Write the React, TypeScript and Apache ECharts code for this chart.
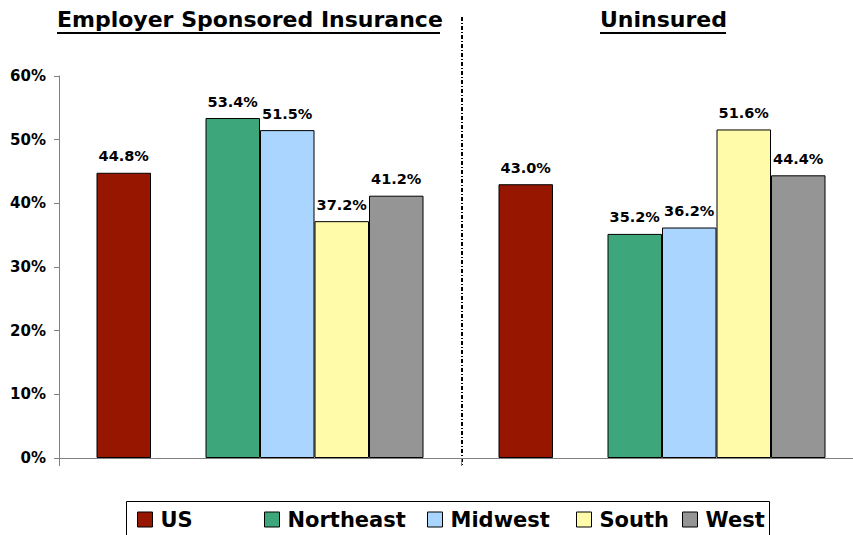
import React, { useEffect, useRef } from "react";
import * as echarts from "echarts";

const categories = ["Employer Sponsored Insurance", "Uninsured"];
const usValues = [44.8, 43.0];
const northeastValues = [53.4, 35.2];
const midwestValues = [51.5, 36.2];
const southValues = [37.2, 51.6];
const westValues = [41.2, 44.4];
const yTicks = { min: 0, max: 60, interval: 10 };

const seriesDefs = [
  { name: "US", data: usValues, color: "#961600" },
  { name: "gap", data: ["-", "-"], color: "transparent" },
  { name: "Northeast", data: northeastValues, color: "#3DA77B" },
  { name: "Midwest", data: midwestValues, color: "#A9D5FF" },
  { name: "South", data: southValues, color: "#FFFBA9" },
  { name: "West", data: westValues, color: "#959595" },
];

const legendLefts: Record<string, number> = {
  US: 137,
  Northeast: 264,
  Midwest: 427,
  South: 576,
  West: 682,
};

const FONT = "DejaVu Sans";

export default function App() {
  const ref = useRef<HTMLDivElement>(null);
  useEffect(() => {
    document.body.style.margin = "0";
    if (!ref.current) return;
    const chart = echarts.init(ref.current, null, { renderer: "svg" });
    const series = seriesDefs.map((s) => ({
      name: s.name,
      type: "bar",
      data: s.data,
      barWidth: 54.5,
      barGap: "0%",
      itemStyle: {
        color: s.color,
        borderColor: s.name === "gap" ? "transparent" : "#000",
        borderWidth: 1,
      },
      label: {
        show: s.name !== "gap",
        position: "top",
        distance: 9,
        formatter: (p: any) => Number(p.value).toFixed(1) + "%",
        fontFamily: FONT,
        fontWeight: "bold",
        fontSize: 14.5,
        color: "#000",
      },
    }));
    const legends = seriesDefs
      .filter((s) => s.name !== "gap")
      .map((s) => ({
        data: [s.name],
        left: legendLefts[s.name],
        top: 509,
        padding: 0,
        itemWidth: 15,
        itemHeight: 15,
        itemGap: 0,
        icon: "rect",
        itemStyle: { borderColor: "#000", borderWidth: 1 },
        textStyle: {
          fontFamily: FONT,
          fontWeight: "bold",
          fontSize: 21,
          color: "#000",
          padding: [0, 0, 0, 3],
        },
        selectedMode: false,
      }));
    chart.setOption({
      animation: false,
      backgroundColor: "#fff",
      grid: {
        left: 59,
        width: 804,
        top: 76,
        bottom: 77,
        containLabel: false,
        outerBoundsMode: "none",
      },
      xAxis: {
        type: "category",
        data: categories,
        axisLine: { lineStyle: { color: "#808080", width: 1 } },
        axisTick: { show: true, length: 8, lineStyle: { color: "#808080" } },
        axisLabel: { show: false },
      },
      yAxis: {
        type: "value",
        min: yTicks.min,
        max: yTicks.max,
        interval: yTicks.interval,
        axisLine: { show: true, lineStyle: { color: "#808080", width: 1 } },
        axisTick: { show: true, length: 5, lineStyle: { color: "#808080" } },
        splitLine: { show: false },
        axisLabel: {
          formatter: "{value}%",
          margin: 13,
          fontFamily: FONT,
          fontWeight: "bold",
          fontSize: 15,
          color: "#000",
        },
      },
      legend: legends,
      series,
      graphic: [
        {
          type: "text",
          left: 57,
          top: 8,
          style: {
            text: "Employer Sponsored Insurance",
            font: `bold 22px "${FONT}"`,
            fill: "#000",
          },
        },
        {
          type: "line",
          shape: { x1: 57, y1: 33, x2: 440, y2: 33 },
          style: { stroke: "#000", lineWidth: 2 },
        },
        {
          type: "text",
          left: 600,
          top: 8,
          style: {
            text: "Uninsured",
            font: `bold 22px "${FONT}"`,
            fill: "#000",
          },
        },
        {
          type: "line",
          shape: { x1: 600, y1: 33, x2: 726, y2: 33 },
          style: { stroke: "#000", lineWidth: 2 },
        },
        {
          type: "line",
          shape: { x1: 462, y1: 17, x2: 462, y2: 466 },
          style: { stroke: "#000", lineWidth: 2, lineDash: [4, 2, 1, 2] },
        },
        {
          type: "rect",
          shape: { x: 126.5, y: 501.5, width: 643, height: 40 },
          style: { fill: "none", stroke: "#000", lineWidth: 1 },
          z: 0,
        },
      ],
    });
    return () => chart.dispose();
  }, []);
  return <div ref={ref} style={{ width: 853, height: 535 }} />;
}
